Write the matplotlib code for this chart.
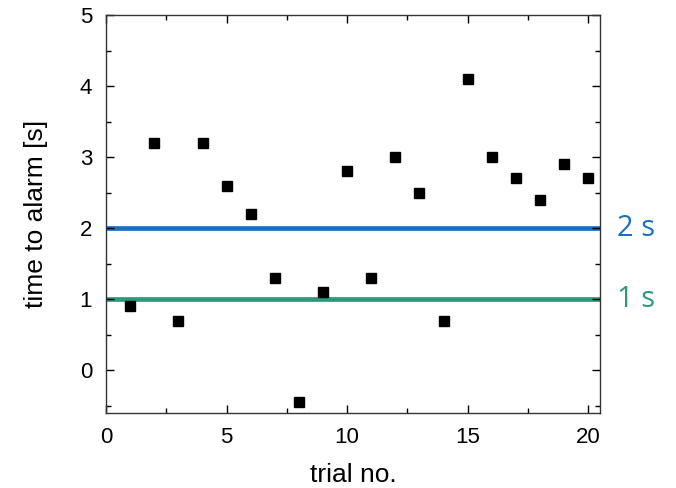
import numpy as np
from matplotlib import pyplot as plt
from matplotlib.ticker import MultipleLocator

trial = np.arange(1, 21)
time_to_alarm = [0.9, 3.2, 0.7, 3.2, 2.6, 2.2, 1.3, -0.45, 1.1, 2.8,
                 1.3, 3.0, 2.5, 0.7, 4.1, 3.0, 2.7, 2.4, 2.9, 2.7]
thresholds = [2, 1]
threshold_labels = ['2 s', '1 s']
threshold_colors = ['#1b6fc2', '#2b9a7a']


def main():
    plt.rcParams['font.family'] = ['Liberation Sans', 'DejaVu Sans']
    fig = plt.figure(figsize=(6.76, 4.88), dpi=100)
    ax = fig.add_axes([0.157, 0.154, 0.731, 0.815])

    for y, lab, c in zip(thresholds, threshold_labels, threshold_colors):
        ax.axhline(y, color=c, lw=3.4, zorder=1)
        ax.text(1.033, y, lab, transform=ax.get_yaxis_transform(), color=c,
                fontsize=21, va='center', ha='left', family='Open Sans')

    ax.plot(trial, time_to_alarm, 's', color='black', ms=6.5, zorder=3)

    ax.set_xlim(0, 20.5)
    ax.set_ylim(-0.6, 5)
    ax.xaxis.set_major_locator(MultipleLocator(5))
    ax.xaxis.set_minor_locator(MultipleLocator(2.5))
    ax.yaxis.set_major_locator(MultipleLocator(1))
    ax.yaxis.set_minor_locator(MultipleLocator(0.5))
    ax.tick_params(which='both', direction='in', top=True, right=True)
    ax.tick_params(which='major', length=6, width=1, labelsize=16, pad=10)
    ax.tick_params(which='minor', length=3.5, width=1)
    for s in ax.spines.values():
        s.set_linewidth(1)
        s.set_color('#333333')

    ax.set_xlabel('trial no.', fontsize=19, labelpad=11)
    ax.set_ylabel('time to alarm [s]', fontsize=19, labelpad=23)

    plt.savefig('out.png')


main()
